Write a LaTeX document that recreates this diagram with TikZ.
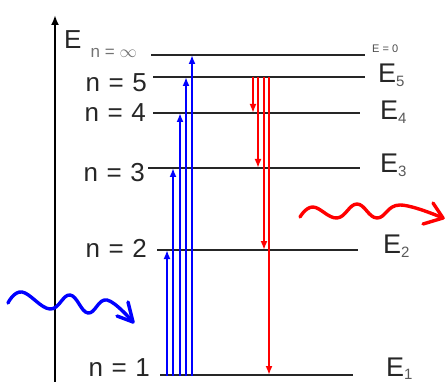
\documentclass[tikz,border=0pt]{standalone}
\usepackage{fontspec}
\setmainfont{Liberation Sans}
\usetikzlibrary{arrows.meta}

\newcommand{\lvsub}[1]{\raisebox{-0.12em}{\fontsize{15}{15}\selectfont\color{black!65}#1}}

\begin{document}
\begin{tikzpicture}[
    x=1pt, y=-1pt,
    level/.style={line width=1.7pt, black!85},
    axis/.style={-{Latex[length=10pt,width=8pt]}, line width=2.2pt, black},
    absorb/.style={-{Latex[length=9pt,width=7pt]}, line width=2.4pt, blue},
    emit/.style={-{Latex[length=9pt,width=7pt]}, line width=2.4pt, red},
    bphoton/.style={line width=3.4pt, blue, line cap=round, line join=round},
    rphoton/.style={line width=3.4pt, red, line cap=round, line join=round},
    nlabel/.style={anchor=base east, inner sep=0pt, font=\fontsize{26}{26}\selectfont, text=black!85},
    elabel/.style={anchor=base west, inner sep=0pt, font=\fontsize{27}{27}\selectfont, text=black!85}
]
\useasboundingbox (0,0) rectangle (447,382);

% Energy axis
\coordinate (ax0) at (55,382);
\coordinate (ax1) at (55,15);
\draw[axis] (ax0) -- (ax1);
\node[anchor=base west, inner sep=0pt, font=\fontsize{26}{26}\selectfont, text=black!85] (eaxis) at (64,49) {E};

% Levels
\coordinate (ninfw) at (151,55);  \coordinate (ninfe) at (365,55);
\coordinate (n5w) at (153,77);    \coordinate (n5e) at (365,77);
\coordinate (n4w) at (153,113);   \coordinate (n4e) at (360,113);
\coordinate (n3w) at (148,168);   \coordinate (n3e) at (360,168);
\coordinate (n2w) at (157,250);   \coordinate (n2e) at (358,250);
\coordinate (n1w) at (160,375);   \coordinate (n1e) at (353,375);

\draw[level] (ninfw) -- (ninfe);
\draw[level] (n5w) -- (n5e);
\draw[level] (n4w) -- (n4e);
\draw[level] (n3w) -- (n3e);
\draw[level] (n2w) -- (n2e);
\draw[level] (n1w) -- (n1e);

% Level labels, left
\node[anchor=base east, inner sep=0pt, font=\fontsize{17}{17}\selectfont, text=black!55] (linf) at (137,58) {n = $\infty$};
\node[nlabel] (l5) at (147,92) {n\hspace{0.33em}=\hspace{0.33em}5};
\node[nlabel] (l4) at (146,122) {n\hspace{0.33em}=\hspace{0.33em}4};
\node[nlabel] (l3) at (145,182) {n\hspace{0.33em}=\hspace{0.33em}3};
\node[nlabel] (l2) at (147,257) {n\hspace{0.33em}=\hspace{0.33em}2};
\node[nlabel] (l1) at (150,376) {n\hspace{0.33em}=\hspace{0.33em}1};

% Level labels, right
\node[anchor=base west, inner sep=0pt, font=\fontsize{11}{11}\selectfont, text=black!70] (e0) at (372,53) {E = 0};
\node[elabel] (e5) at (378,83) {E\lvsub{5}};
\node[elabel] (e4) at (380,120) {E\lvsub{4}};
\node[elabel] (e3) at (380,173) {E\lvsub{3}};
\node[elabel] (e2) at (383,254) {E\lvsub{2}};
\node[elabel] (e1) at (386,376) {E\lvsub{1}};

% Absorption
\coordinate (up2) at (167,376);
\coordinate (up3) at (173,376);
\coordinate (up4) at (180,376);
\coordinate (up5) at (186,376);
\coordinate (upinf) at (192,376);
\draw[absorb] (up2) -- (up2 |- n2w);
\draw[absorb] (up3) -- (up3 |- n3w);
\draw[absorb] (up4) -- (up4 |- n4w);
\draw[absorb] (up5) -- (up5 |- n5w);
\draw[absorb] (upinf) -- (upinf |- ninfw);

% Emission
\coordinate (dn4) at (253,77);
\coordinate (dn3) at (258,77);
\coordinate (dn2) at (264,77);
\coordinate (dn1) at (269,77);
\draw[emit] (dn4) -- (dn4 |- n4w);
\draw[emit] (dn3) -- (dn3 |- n3w);
\draw[emit] (dn2) -- (dn2 |- n2w);
\draw[emit] (dn1) -- (dn1 |- n1w);

% Photons
\coordinate (btip) at (133,322);
\draw[bphoton] plot[smooth, tension=0.7] coordinates {(8,303) (22,292) (50,309) (70,295) (88,313) (107,300) (133,322)};
\draw[bphoton] (117,316) -- (btip) -- (128,302);

\coordinate (rtip) at (443,218);
\draw[rphoton] plot[smooth, tension=0.7] coordinates {(300,217) (313,207) (337,218) (357,204) (377,218) (400,205) (443,218)};
\draw[rphoton] (423,224) -- (rtip) -- (433,203);

\end{tikzpicture}
\end{document}
